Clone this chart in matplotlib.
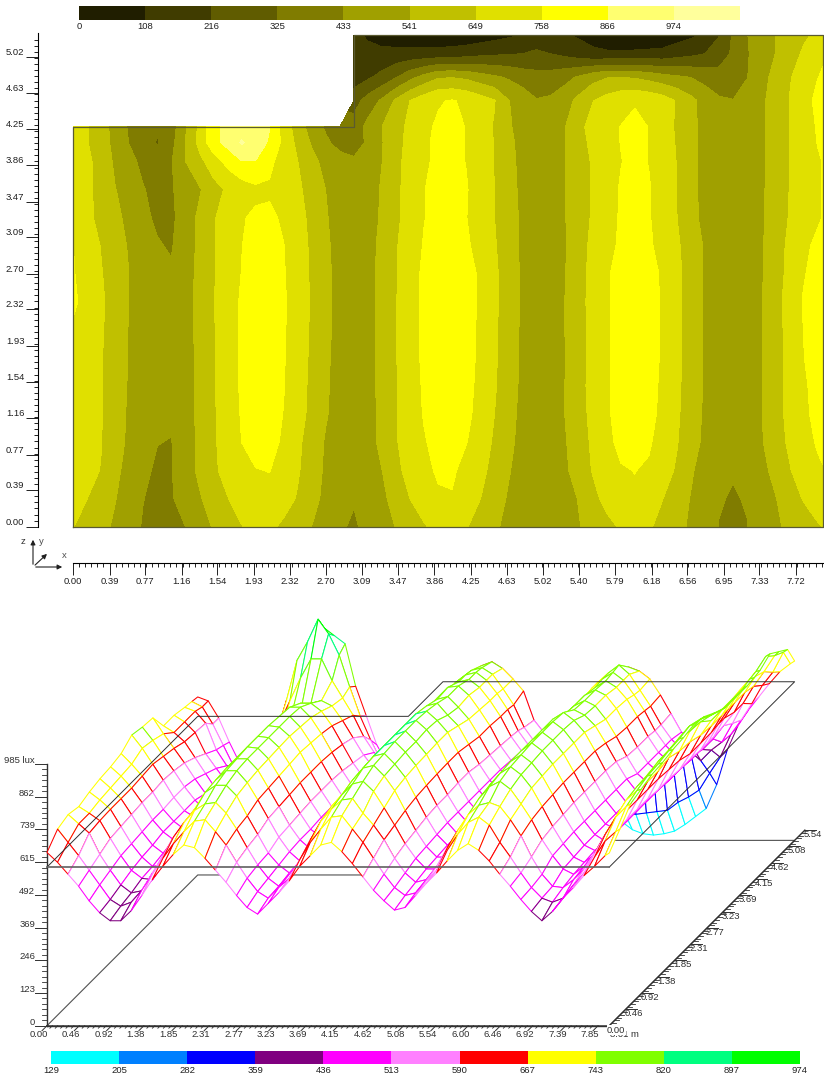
import numpy as np
import matplotlib
matplotlib.use('Agg')
import matplotlib.pyplot as plt
from matplotlib.collections import PolyCollection
from matplotlib.ticker import AutoMinorLocator

plt.rcParams['font.family'] = ['Liberation Sans', 'DejaVu Sans']
plt.rcParams['font.size'] = 6.8

W, H = 824, 1077

# measurement grid, metres
x_m = np.append(np.arange(54) * 0.15, 8.01)
y_m = [0, 0.3, 0.6, 0.9, 1.2, 1.5, 1.8, 2.1, 2.4, 2.7, 3.0, 3.3, 3.6, 3.9, 4.1, 4.27, 4.55, 4.8, 5.05, 5.25]

# lux per row of y_m
lux_y00 = [652,615,570,525,470, 425,395,395,433,490, 550,600,645,680,670, 630,585,540,490,445, 420,460,500,545,600, 640,680,690,655,610, 560,510,470,435,445, 490,535,575,620,660, 685,660,620,570,525, 475,430,395,430,480, 520,565,600,640,650]
lux_y03 = [700,650,600,545,490, 435,410,425,470,530, 590,645,690,730,735, 690,640,575,515,465, 440,480,515,585,650, 700,745,750,700,650, 590,530,480,450,460, 505,545,620,680,725, 745,715,650,595,535, 480,440,425,440,490, 535,595,655,690,700]
lux_y06 = [715,680,645,565,505, 450,420,428,495,560, 630,685,730,755,760, 720,660,590,525,475, 445,490,540,620,690, 735,770,775,720,675, 620,550,495,460,470, 520,590,655,715,750, 760,745,695,635,555, 490,445,440,470,510, 570,640,705,745,755]
lux_y09 = [705,680,652,585,520, 465,435,430,490,560, 635,695,758,785,785, 745,670,600,530,485, 455,495,570,640,705, 750,790,800,762,700, 635,565,510,470,470, 530,600,665,735,780, 800,770,715,655,580, 520,470,450,480,530, 600,665,730,765,770]
lux_y12 = [720,690,655,590,525, 475,440,445,495,565, 635,705,765,800,800, 755,690,620,550,495, 460,495,570,640,710, 765,810,820,780,725, 650,575,515,475,475, 540,610,675,745,790, 815,785,735,665,590, 525,475,455,485,535, 610,675,740,780,785]
lux_y15 = [730,695,655,595,530, 480,450,450,500,565, 640,710,770,805,805, 762,695,625,555,500, 465,500,575,640,715, 770,815,825,785,735, 660,585,520,480,480, 540,615,680,745,795, 820,790,740,670,595, 530,480,460,490,535, 610,680,745,785,790]
lux_y18 = [735,700,655,600,535, 490,460,460,500,565, 640,710,770,810,805, 765,700,630,560,500, 470,500,575,645,720, 775,815,830,790,740, 665,590,525,480,480, 535,610,680,745,795, 825,795,745,675,600, 530,480,455,490,535, 610,680,755,795,800]
lux_y21 = [745,705,660,600,535, 490,460,460,505,565, 640,710,770,810,805, 768,705,635,565,505, 470,505,575,645,720, 775,815,830,790,742, 668,590,525,480,480, 540,610,680,745,795, 825,795,745,675,600, 530,480,460,490,535, 610,680,758,800,805]
lux_y24 = [775,725,665,605,540, 490,465,465,505,570, 645,710,770,810,805, 770,710,635,565,505, 470,505,575,645,720, 775,815,830,795,745, 670,595,525,480,480, 540,610,685,745,795, 825,795,745,675,600, 530,480,460,490,535, 610,690,765,810,815]
lux_y27 = [765,715,655,600,540, 490,450,445,500,565, 640,700,760,805,805, 765,705,635,565,505, 470,505,570,640,720, 775,815,825,790,745, 670,595,525,480,480, 535,610,680,745,795, 820,790,745,675,600, 530,480,455,490,530, 605,675,750,795,805]
lux_y30 = [760,700,645,590,530, 475,440,425,495,560, 640,700,755,800,800, 760,700,630,560,500, 470,500,570,640,710, 765,805,815,770,730, 660,585,525,480,480, 530,610,670,735,770, 790,770,730,665,595, 530,480,455,490,530, 600,670,745,770,780]
lux_y33 = [690,665,630,570,510, 450,420,410,490,560, 640,690,750,775,775, 745,690,620,550,495, 465,495,555,625,700, 755,790,800,760,715, 650,580,525,480,480, 535,600,660,730,765, 785,765,715,650,575, 510,475,450,485,525, 585,655,710,750,760]
lux_y36 = [690,665,625,545,490, 438,405,425,470,530, 610,665,700,735,745, 725,670,605,540,490, 460,500,550,625,695, 755,795,800,765,710, 650,575,520,480,480, 535,600,660,725,765, 785,765,715,645,570, 510,475,450,485,525, 585,650,710,750,760]
lux_y39 = [680,665,620,520,460, 410,375,425,540,620, 705,790,862,862,780, 715,650,570,510,470, 450,470,540,620,690, 745,775,785,755,705, 645,570,515,480,480, 535,600,660,720,755, 780,755,710,645,570, 510,475,450,480,520, 585,650,710,750,760]
lux_y41 = [675,655,590,510,430, 395,315,400,540,680, 830,900,985,930,850, 730,620,530,450,400, 385,450,535,615,680, 745,775,785,755,705, 645,565,510,475,485, 535,615,670,725,760, 785,755,700,640,565, 510,470,450,480,520, 590,650,715,760,765]
lux_y43 = [670,655,590,500,420, 390,340,380,530,670, 835,900,930,900,870, 710,600,490,420,385, 370,465,541,610,675, 740,770,780,755,700, 640,555,500,465,490, 535,625,680,725,760, 790,755,695,635,565, 510,470,450,480,520, 590,650,715,765,770]
# back rows only exist from x = 3.00 m on (notch of the room)
lux_y46 = [280,370,450,560,650, 710,750,765,740,700, 655,545,495,440,450, 495,570,645,690,725, 745,730,700,640,570, 500,450,435,475,525, 575,650,710,785,795]
lux_y48 = [160,200,250,320,400, 470,530,535,520,480, 450,420,385,360,370, 400,445,500,535,540, 530,505,475,450,430, 395,360,400,430,500, 575,640,695,755,770]
lux_y50 = [120,125,130,140,145, 145,150,155,170,190, 200,210,216,240,216, 190,160,130,125,125, 130,135,140,170,190, 216,280,340,425,480, 541,610,660,735,745]
lux_y52 = [120,100,70,50,40, 30,25,30,35,50, 70,90,108,130,135, 115,95,70,40,25, 20,25,35,60,90, 120,210,340,430,490, 540,590,635,665,675]

lux_rows = [lux_y00, lux_y03, lux_y06, lux_y09, lux_y12, lux_y15, lux_y18, lux_y21, lux_y24, lux_y27,
            lux_y30, lux_y33, lux_y36, lux_y39, lux_y41, lux_y43, lux_y46, lux_y48, lux_y50, lux_y52]

# contour legend
map_levels = [0, 108, 216, 325, 433, 541, 649, 758, 866, 974, 1085]
map_labels = ['0', '108', '216', '325', '433', '541', '649', '758', '866', '974']
map_colors = ['#201e00', '#403c00', '#605c00', '#807c00', '#a0a000', '#c0c000', '#e0e000', '#ffff00', '#ffff70', '#ffff9c']

# wire legend
wire_levels = [129, 205, 282, 359, 436, 513, 590, 667, 743, 820, 897, 974]
wire_colors = ['#00ffff', '#0080ff', '#0000ff', '#800080', '#ff00ff', '#ff80ff', '#ff0000', '#ffff00', '#80ff00', '#00ff80', '#00ff00']

# tick labels
map_xticks = ['0.00', '0.39', '0.77', '1.16', '1.54', '1.93', '2.32', '2.70', '3.09', '3.47', '3.86', '4.25', '4.63', '5.02', '5.40', '5.79', '6.18', '6.56', '6.95', '7.33', '7.72']
map_yticks = ['0.00', '0.39', '0.77', '1.16', '1.54', '1.93', '2.32', '2.70', '3.09', '3.47', '3.86', '4.25', '4.63', '5.02']
wire_xticks = ['0.00', '0.46', '0.92', '1.38', '1.85', '2.31', '2.77', '3.23', '3.69', '4.15', '4.62', '5.08', '5.54', '6.00', '6.46', '6.92', '7.39', '7.85']
wire_yticks = ['0.46', '0.92', '1.38', '1.85', '2.31', '2.77', '3.23', '3.69', '4.15', '4.62', '5.08', '5.54']
wire_zticks = ['0', '123', '246', '369', '492', '615', '739', '862']
notch_x, notch_y = 3.0, 4.27
x_end, y_end = 8.01, 5.25
plane_lux = 597

lux = np.full((len(y_m), len(x_m)), np.nan)
for i, row in enumerate(lux_rows):
    lux[i, len(x_m) - len(row):] = row


def px_axes(fig, left, top, right, bottom):
    return fig.add_axes([left / W, 1 - bottom / H, (right - left) / W, (bottom - top) / H])


def project(x, y, z):
    x, y, z = np.asarray(x, float), np.asarray(y, float), np.asarray(z, float)
    return 47 + 70.2 * x + 35.3 * y, 1025.7 - 35.3 * y - 0.2657 * z


fig = plt.figure(figsize=(W / 100, H / 100), dpi=100)

# overlay in pixel space for the oblique wire view
wire = fig.add_axes([0, 0, 1, 1], zorder=0)
wire.set_xlim(0, W)
wire.set_ylim(H, 0)
wire.axis('off')

# ---- top: contour map
ax = px_axes(fig, 73, 35, 823, 526.7)
ax.set_zorder(1)
ax.patch.set_alpha(0)
ax.contourf(x_m, y_m, np.ma.masked_invalid(lux), levels=map_levels, colors=map_colors)
ax.plot([0, 0, notch_x, notch_x, x_end, x_end, 0], [0, notch_y, notch_y, y_end, y_end, 0, 0],
        color='#5a5a30', lw=0.9, clip_on=False)
ax.set_xlim(0, x_end)
ax.set_ylim(0, y_end)
ax.spines['top'].set_visible(False)
ax.spines['right'].set_visible(False)
ax.spines['left'].set_position(('outward', 25))
ax.spines['bottom'].set_position(('outward', 26))
ax.spines['left'].set_bounds(0, 5.27)
ax.set_xticks([float(t) for t in map_xticks], map_xticks)
ax.set_yticks([float(t) for t in map_yticks], map_yticks)
ax.xaxis.set_minor_locator(AutoMinorLocator(6))
ax.yaxis.set_minor_locator(AutoMinorLocator(6))
ax.tick_params(which='major', length=8.5, width=0.7, pad=1.5, color='#202020', labelcolor='#202020')
ax.tick_params(which='minor', length=3.2, width=0.7, color='#202020')
for lab in ax.get_yticklabels():
    lab.set_va('bottom')
    lab.set_y(lab.get_position()[1])

# ---- contour legend
cb = px_axes(fig, 79.3, 5.7, 739.7, 20)
cb.bar(np.arange(10), 1, width=1, align='edge', color=map_colors)
cb.set_xlim(0, 10)
cb.set_ylim(0, 1)
cb.set_yticks([])
cb.set_xticks(np.arange(10), map_labels)
cb.tick_params(length=0, pad=1.5, labelcolor='#202020')
for s in cb.spines.values():
    s.set_visible(False)

# ---- bottom legend
cb2 = px_axes(fig, 51, 1050.7, 800, 1064)
cb2.bar(np.arange(11), 1, width=1, align='edge', color=wire_colors)
cb2.set_xlim(0, 11)
cb2.set_ylim(0, 1)
cb2.set_yticks([])
cb2.set_xticks(np.arange(12), wire_levels)
cb2.tick_params(length=0, pad=1.5, labelcolor='#202020')
for s in cb2.spines.values():
    s.set_visible(False)

# ---- axis triad
arrow = dict(arrowstyle='-|>', color='#202020', lw=0.8, mutation_scale=7)
for tip in [(33, 537), (65, 567), (49, 552)]:
    wire.annotate('', xy=tip, xytext=(33, 567), arrowprops=arrow)
wire.text(23, 542, 'z', ha='center', va='center', color='#303030')
wire.text(41, 542, 'y', ha='center', va='center', color='#505050')
wire.text(64, 555, 'x', ha='center', va='center', color='#505050')

# ---- floor outline, behind the surface
plane_px = [0, 0, notch_x, notch_x, x_end, x_end, 0]
plane_py = [0, notch_y, notch_y, y_end, y_end, 0, 0]
fx, fy = project(plane_px, plane_py, np.zeros(7))
wire.plot(fx, fy, color='#505050', lw=0.8, zorder=2)

# ---- wire surface, painted back to front
cells, edge = [], []
sx, sy = project(*np.meshgrid(x_m, y_m), lux)
for j in range(len(y_m) - 2, -1, -1):
    for i in range(len(x_m) - 1):
        vals = lux[[j, j, j + 1, j + 1], [i, i + 1, i + 1, i]]
        if np.isnan(vals).any():
            continue
        cells.append(np.column_stack([sx[[j, j, j + 1, j + 1], [i, i + 1, i + 1, i]],
                                      sy[[j, j, j + 1, j + 1], [i, i + 1, i + 1, i]]]))
        band = np.clip(np.digitize(vals.mean(), wire_levels) - 1, 0, len(wire_colors) - 1)
        edge.append(wire_colors[band])
wire.add_collection(PolyCollection(cells, facecolors='white', edgecolors=edge, linewidths=0.75, zorder=3))

# ---- reference plane, on top of the surface
ux, uy = project(plane_px, plane_py, np.full(7, plane_lux))
wire.plot(ux[:6], uy[:6], color='#303030', lw=0.7, zorder=4)
wire.plot(ux[5:], uy[5:], color='#606060', lw=1.2, zorder=4)

# ---- wire axes
ink = '#303030'
zmax = 985
ax0, ay0 = project(0, 0, 0)
ztop = project(0, 0, zmax)[1]
wire.plot([ax0, ax0], [ay0, ztop], color=ink, lw=1.0)
wire.plot([ax0, ax0 - 12], [ztop, ztop], color=ink, lw=0.7)
wire.text(ax0 - 12, ztop + 1, '985 lux', ha='right', va='bottom', color=ink)
z_major = np.array([float(t) for t in wire_zticks] + [zmax])
for a, b in zip(z_major[:-1], z_major[1:]):
    for v in a + (b - a) * np.arange(1, 6) / 6:
        t = project(0, 0, v)[1]
        wire.plot([ax0 - 5, ax0], [t, t], color=ink, lw=0.6)
for lab in wire_zticks:
    t = project(0, 0, float(lab))[1]
    wire.plot([ax0 - 12, ax0], [t, t], color=ink, lw=0.7)
    wire.text(ax0 - 12, t + 1, lab, ha='right', va='bottom', color=ink)

xe = project(x_end, 0, 0)[0]
wire.plot([ax0, xe], [ay0, ay0], color=ink, lw=1.0)
x_major = np.array([float(t) for t in wire_xticks])
for a, b in zip(x_major[:-1], x_major[1:]):
    for v in a + (b - a) * np.arange(1, 6) / 6:
        t = project(v, 0, 0)[0]
        wire.plot([t, t - 2.5], [ay0, ay0 + 2.5], color=ink, lw=0.6)
for lab in wire_xticks:
    t = project(float(lab), 0, 0)[0]
    wire.plot([t, t - 5], [ay0, ay0 + 5], color=ink, lw=0.7)
    wire.text(t - 8, ay0 + 8.5, lab, ha='center', va='center', color=ink)
wire.text(xe + 15, ay0 + 8.5, '8.01 m', ha='center', va='center', color=ink)
wire.text(xe + 7, ay0 + 4.5, '0.00', ha='center', va='center', color=ink,
          bbox=dict(facecolor='white', edgecolor='none', pad=0.3), zorder=5)

y_major = np.array([0.0] + [float(t) for t in wire_yticks])
ex, ey = project(x_end, y_major[-1], 0)
wire.plot([xe, ex], [ay0, ey], color=ink, lw=1.0)
for a, b in zip(y_major[:-1], y_major[1:]):
    for v in a + (b - a) * np.arange(1, 6) / 6:
        tx, ty = project(x_end, v, 0)
        wire.plot([tx, tx + 4], [ty, ty], color=ink, lw=0.6)
for lab in wire_yticks:
    tx, ty = project(x_end, float(lab), 0)
    wire.plot([tx, tx + 11], [ty, ty], color=ink, lw=0.7)
    wire.text(tx + 8, ty + 4.5, lab, ha='center', va='center', color=ink)

fig.savefig('out.png', dpi=100, facecolor='white')
